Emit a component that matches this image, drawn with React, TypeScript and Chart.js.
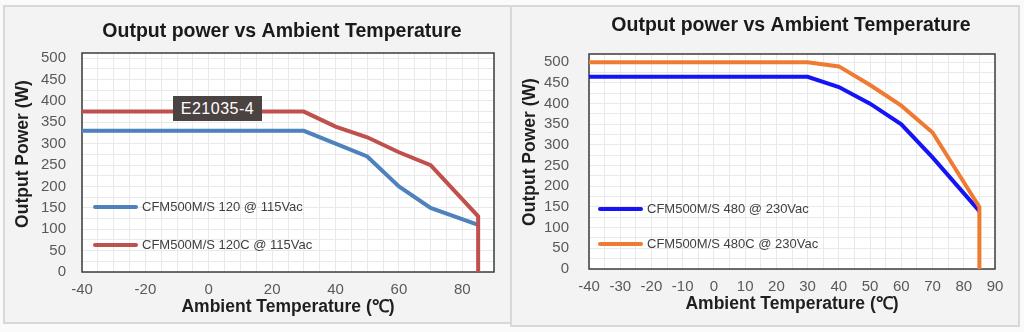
import React, { useEffect, useRef } from "react";
import { Chart, registerables } from "chart.js";

Chart.register(...registerables);

// ---- data ----
const leftTemps = [-40, 30, 40, 50, 60, 70, 85, 85];
const left120 = [330, 330, 300, 270, 200, 150, 110];
const left120C = [375, 375, 340, 315, 280, 250, 130, 0];
const leftLabels = ["CFM500M/S 120 @ 115Vac", "CFM500M/S 120C @ 115Vac"];

const rightTemps = [-40, 30, 40, 50, 60, 70, 85, 85];
const right480 = [465, 465, 440, 400, 350, 270, 140];
const right480C = [500, 500, 490, 445, 395, 330, 150, 0];
const rightLabels = ["CFM500M/S 480 @ 230Vac", "CFM500M/S 480C @ 230Vac"];

const yTickValues = [0, 25, 50, 75, 100, 125, 150, 175, 200, 225, 250, 275, 300, 325, 350, 375, 400, 425, 450, 475, 500];

const chartTitle = "Output power vs Ambient Temperature";
const yTitle = "Output Power (W)";
const xTitle = "Ambient Temperature (℃)";
const watermark = "E21035-4";

const FONT = "'Liberation Sans', Arial, sans-serif";

const toPoints = (xs: number[], ys: number[]) => ys.map((y, i) => ({ x: xs[i], y }));

const panelPlugin = {
  id: "panelDeco",
  beforeDraw(chart: any) {
    const { ctx, chartArea: ca } = chart;
    ctx.save();
    ctx.fillStyle = "#ffffff";
    ctx.fillRect(ca.left, ca.top, ca.right - ca.left, ca.bottom - ca.top);
    ctx.restore();
  },
  beforeDatasetsDraw(chart: any) {
    const { ctx, chartArea: ca } = chart;
    ctx.save();
    ctx.strokeStyle = "#3d3d3d";
    ctx.lineWidth = 1.5;
    ctx.strokeRect(ca.left, ca.top, ca.right - ca.left, ca.bottom - ca.top);
    ctx.restore();
  },
  afterDraw(chart: any, _a: any, opts: any) {
    const { ctx, chartArea: ca } = chart;
    ctx.save();
    // title
    ctx.font = `bold 19.5px ${FONT}`;
    ctx.fillStyle = "#1a1a1a";
    ctx.textAlign = "center";
    ctx.textBaseline = "middle";
    ctx.fillText(opts.title, (ca.left + ca.right) / 2 + opts.titleDx, opts.titleY);
    // y axis title
    ctx.save();
    ctx.font = `bold 17.5px ${FONT}`;
    ctx.fillStyle = "#1f1f1f";
    ctx.translate(opts.yTitleX, opts.yTitleY);
    ctx.rotate(-Math.PI / 2);
    ctx.fillText(yTitle, 0, 0);
    ctx.restore();
    // legend
    ctx.font = `13px ${FONT}`;
    ctx.textAlign = "left";
    ctx.lineCap = "round";
    chart.data.datasets.forEach((ds: any, i: number) => {
      const y = ca.top + opts.legendYs[i];
      const x0 = ca.left + opts.legendDx;
      ctx.strokeStyle = ds.borderColor;
      ctx.lineWidth = 4;
      ctx.beginPath();
      ctx.moveTo(x0, y);
      ctx.lineTo(x0 + 41, y);
      ctx.stroke();
      ctx.fillStyle = "#404040";
      ctx.fillText(ds.label, x0 + 47, y);
    });
    ctx.restore();
  },
};

type Cfg = {
  temps: number[];
  a: number[];
  b: number[];
  labels: string[];
  colors: string[];
  yMax: number;
  xLabelStep: number;
  padRight: number;
  padTop: number;
  yWidth: number;
  yTickPad: number;
  xHeight: number;
  xTitlePad: number;
  titleDx: number;
  titleY: number;
  yTitleX: number;
  yTitleY: number;
  legendDx: number;
  legendYs: number[];
};

function makeConfig(c: Cfg): any {
  return {
    type: "line",
    data: {
      datasets: [
        {
          label: c.labels[0],
          data: toPoints(c.temps, c.a),
          borderColor: c.colors[0],
          backgroundColor: c.colors[0],
          borderWidth: 4,
          pointRadius: 0,
          tension: 0,
          order: 1,
        },
        {
          label: c.labels[1],
          data: toPoints(c.temps, c.b),
          borderColor: c.colors[1],
          backgroundColor: c.colors[1],
          borderWidth: 4,
          pointRadius: 0,
          tension: 0,
          order: 0,
        },
      ],
    },
    options: {
      responsive: false,
      animation: false,
      layout: { padding: { left: 0, right: c.padRight, top: c.padTop, bottom: 0 } },
      plugins: {
        legend: { display: false },
        tooltip: { enabled: false },
        title: { display: false },
        panelDeco: {
          title: chartTitle,
          titleDx: c.titleDx,
          titleY: c.titleY,
          yTitleX: c.yTitleX,
          yTitleY: c.yTitleY,
          legendDx: c.legendDx,
          legendYs: c.legendYs,
        },
      },
      scales: {
        x: {
          type: "linear",
          min: -40,
          max: 90,
          border: { display: false },
          grid: { color: "#e9e9e9", lineWidth: 1, drawTicks: false },
          ticks: {
            stepSize: 5,
            autoSkip: false,
            maxRotation: 0,
            padding: 9,
            color: "#595959",
            font: { family: FONT, size: 15 },
            callback: (v: any) => ((Number(v) + 40) % c.xLabelStep === 0 ? String(v) : ""),
          },
          title: {
            display: true,
            text: xTitle,
            color: "#1f1f1f",
            font: { family: FONT, size: 17.5, weight: "bold" },
            padding: { top: 0, bottom: c.xTitlePad },
          },
          afterFit: (s: any) => {
            s.height = c.xHeight;
          },
        },
        y: {
          type: "linear",
          min: 0,
          max: c.yMax,
          border: { display: false },
          grid: { color: "#e9e9e9", lineWidth: 1, drawTicks: false },
          afterBuildTicks: (s: any) => {
            s.ticks = yTickValues.map((v) => ({ value: v }));
          },
          ticks: {
            autoSkip: false,
            padding: c.yTickPad,
            color: "#595959",
            font: { family: FONT, size: 15 },
            callback: (v: any) => (Number(v) % 50 === 0 ? String(v) : ""),
          },
          title: { display: false },
          afterFit: (s: any) => {
            s.width = c.yWidth;
          },
        },
      },
    },
    plugins: [panelPlugin],
  };
}

function ChartCanvas({ cfg, width, height }: { cfg: Cfg; width: number; height: number }) {
  const ref = useRef<HTMLCanvasElement | null>(null);
  useEffect(() => {
    if (!ref.current) return;
    const chart = new Chart(ref.current, makeConfig(cfg));
    return () => chart.destroy();
  }, []);
  return <canvas ref={ref} width={width} height={height} style={{ display: "block" }} />;
}

const leftCfg: Cfg = {
  temps: leftTemps,
  a: left120,
  b: left120C,
  labels: leftLabels,
  colors: ["#4f81bd", "#c0504d"],
  yMax: 512,
  xLabelStep: 20,
  padRight: 17,
  padTop: 53,
  yWidth: 82,
  yTickPad: 16,
  xHeight: 60,
  xTitlePad: 14,
  titleDx: -6,
  titleY: 32,
  yTitleX: 23,
  yTitleY: 154,
  legendDx: 13,
  legendYs: [154, 192],
};

const rightCfg: Cfg = {
  temps: rightTemps,
  a: right480,
  b: right480C,
  labels: rightLabels,
  colors: ["#1414f5", "#ef7b32"],
  yMax: 520,
  xLabelStep: 10,
  padRight: 29,
  padTop: 54,
  yWidth: 78,
  yTickPad: 20,
  xHeight: 63,
  xTitlePad: 17,
  titleDx: -1,
  titleY: 26,
  yTitleX: 19,
  yTitleY: 152,
  legendDx: 11,
  legendYs: [155, 190],
};

export default function App() {
  return (
    <div
      style={{
        position: "fixed",
        left: 0,
        top: 0,
        width: 1024,
        height: 332,
        background: "#fafafa",
        overflow: "hidden",
      }}
    >
      <div
        style={{
          position: "absolute",
          left: 3,
          top: 5,
          width: 509,
          height: 319,
          boxSizing: "border-box",
          border: "2px solid #d8d8d8",
          background: "#f3f3f3",
        }}
      />
      <div
        style={{
          position: "absolute",
          left: 510,
          top: 5,
          width: 510,
          height: 322,
          boxSizing: "border-box",
          border: "2px solid #d8d8d8",
          background: "#f3f3f3",
        }}
      />
      <div style={{ position: "absolute", left: 0, top: 0 }}>
        <ChartCanvas cfg={leftCfg} width={511} height={332} />
      </div>
      <div style={{ position: "absolute", left: 511, top: 0 }}>
        <ChartCanvas cfg={rightCfg} width={513} height={332} />
      </div>
      <div
        style={{
          position: "absolute",
          left: 173,
          top: 96,
          width: 89,
          height: 25,
          background: "#4b4242",
          color: "#ffffff",
          fontFamily: FONT,
          fontSize: 16,
          lineHeight: "25px",
          textAlign: "center",
          letterSpacing: 0.5,
        }}
      >
        {watermark}
      </div>
    </div>
  );
}
